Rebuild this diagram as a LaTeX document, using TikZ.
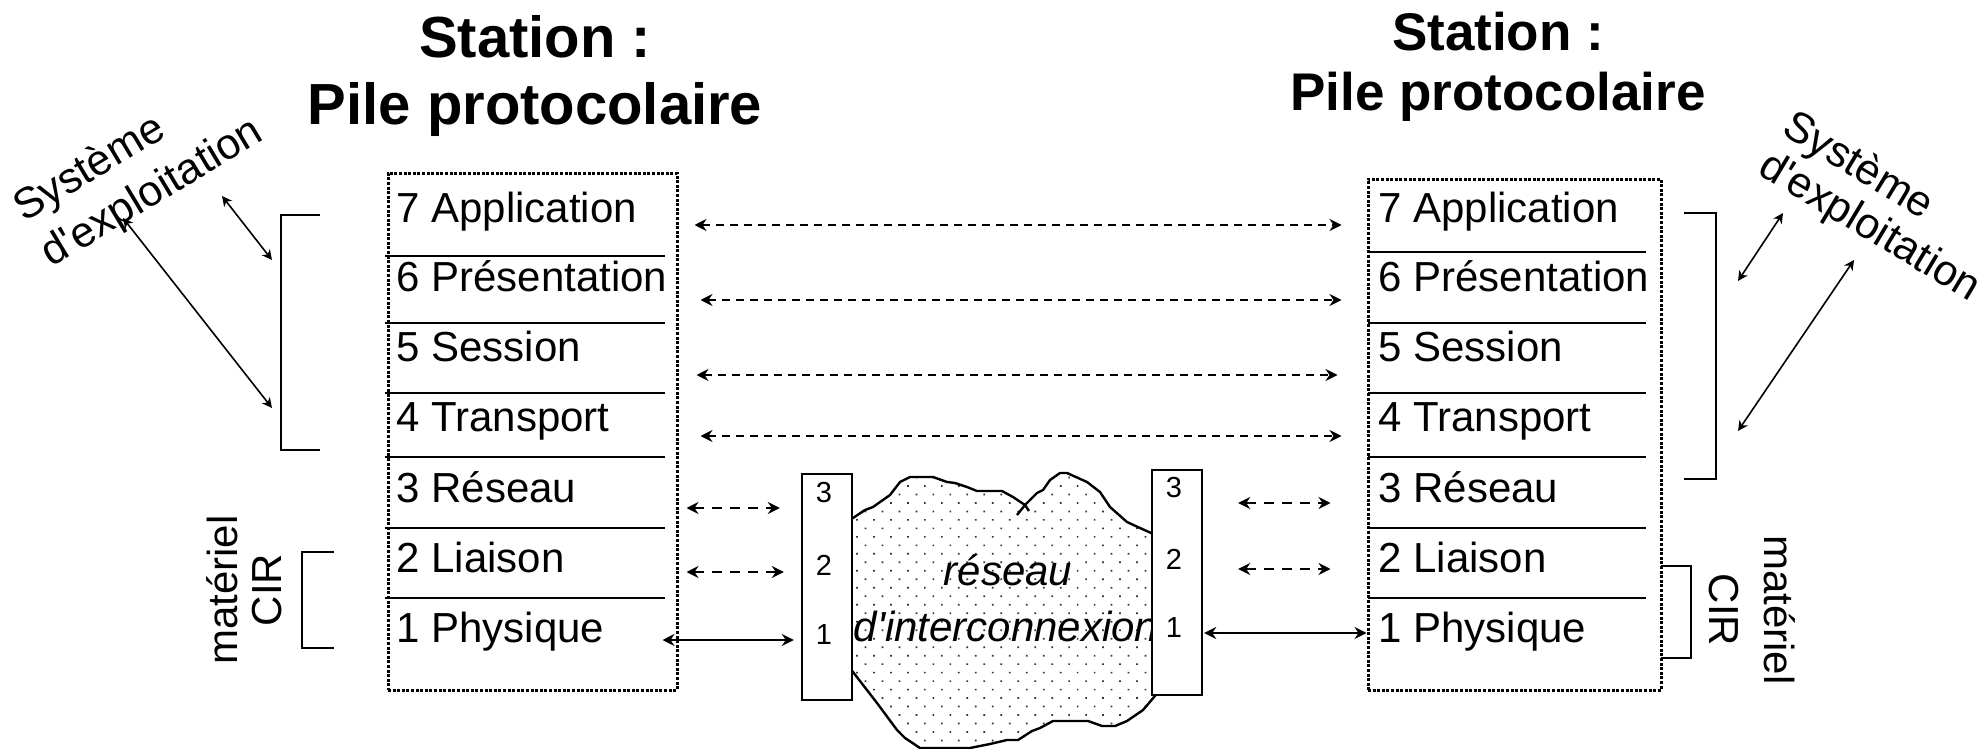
\documentclass[tikz,border=0pt]{standalone}
\usepackage{fontspec}
\setmainfont{Liberation Sans}[Ligatures=TeXOff]
\usepackage{tikz}
\usetikzlibrary{arrows.meta, positioning, patterns.meta}
\tikzset{layer/.style={anchor=base west, inner sep=0pt, font=\fontsize{21pt}{25pt}\selectfont}}

\begin{document}
\begin{tikzpicture}[x=0.5pt, y=-0.5pt, >={Stealth[length=6pt,width=6pt,inset=2pt]},
  pile/.style={draw, line width=1.5pt, dash pattern=on 1.5pt off 0.8pt, inner sep=0pt},
  sep/.style={line width=1.4pt},
  relay/.style={draw, fill=white, line width=1.2pt, inner sep=0pt},
  hopnum/.style={inner sep=0pt, font=\fontsize{14.5pt}{17pt}\selectfont},
  peer/.style={<->, line width=1.1pt, dash pattern=on 4pt off 3pt},
  hop/.style={<->, line width=1.4pt, dash pattern=on 5pt off 4pt},
  wire/.style={<->, line width=1.3pt},
  brace/.style={line width=1.1pt},
  os/.style={<->, line width=0.8pt, >={Stealth[length=5pt,width=5pt,inset=1.5pt]}},
  osname/.style={align=left, inner sep=0pt},
  hwname/.style={align=center, inner sep=0pt},
  net/.style={anchor=base, inner sep=0pt, font=\itshape\fontsize{21pt}{25pt}\selectfont},
  title/.style={align=center, inner sep=0pt}]
\useasboundingbox (0,0) rectangle (1986,749);

% titres
\node[title, font=\bfseries\fontsize{29pt}{33.5pt}\selectfont] (titleA) at (535,76) {Station :\\Pile protocolaire};
\node[title, font=\bfseries\fontsize{26.5pt}{30pt}\selectfont] (titleB) at (1498,67) {Station :\\Pile protocolaire};

% pile de gauche
\node[pile, minimum width=144.5pt, minimum height=258.5pt] (pileA) at (532.5,431.5) {};
\node[layer] (a7) at (396,222) {7 Application};
\node[layer] (a6) at (396,291) {6 Présentation};
\node[layer] (a5) at (396,361) {5 Session};
\node[layer] (a4) at (396,431) {4 Transport};
\node[layer] (a3) at (396,502) {3 Réseau};
\node[layer] (a2) at (396,572) {2 Liaison};
\node[layer] (a1) at (396,642) {1 Physique};
\draw[sep] (385,256) -- (665,256) (385,323) -- (665,323) (385,393) -- (665,393)
  (385,457) -- (665,457) (385,528) -- (665,528) (385,598) -- (665,598);

% pile de droite
\node[pile, minimum width=146.5pt, minimum height=255.5pt] (pileB) at (1514.5,434.5) {};
\node[layer] (b7) at (1378,222) {7 Application};
\node[layer] (b6) at (1378,291) {6 Présentation};
\node[layer] (b5) at (1378,361) {5 Session};
\node[layer] (b4) at (1378,431) {4 Transport};
\node[layer] (b3) at (1378,502) {3 Réseau};
\node[layer] (b2) at (1378,572) {2 Liaison};
\node[layer] (b1) at (1378,642) {1 Physique};
\draw[sep] (1368,252) -- (1646,252) (1368,323) -- (1646,323) (1368,393) -- (1646,393)
  (1368,457) -- (1646,457) (1368,528) -- (1646,528) (1368,598) -- (1646,598);

% nuage
\draw[line width=1.2pt, pattern={Dots[distance=6pt, angle=45, radius=0.6pt]}, pattern color=black!80]
  (845,522) -- (853,518) -- (865,510) -- (873,507) -- (890,495) -- (900,482) -- (910,477)
  -- (933,477) -- (947,482) -- (955,483) -- (967,487) -- (977,491) -- (1002,491) -- (1013,497)
  -- (1025,505) -- (1037,493) -- (1043,490) -- (1050,480) -- (1060,473) -- (1067,473)
  -- (1087,482) -- (1100,492) -- (1110,507) -- (1127,522) -- (1140,528) -- (1160,537)
  -- (1160,690) -- (1143,710) -- (1127,721) -- (1115,726) -- (1102,726) -- (1088,721)
  -- (1053,721) -- (1040,728) -- (1032,731) -- (1018,740) -- (1007,740) -- (990,744)
  -- (970,748) -- (920,748) -- (905,738) -- (897,730) -- (877,703) -- (853,672) -- (845,662) -- cycle;
\draw[line width=1.2pt] (1017,515) -- (1025,505) -- (1029,511);
\node[net] (net1) at (1008,585) {réseau};
\node[net] (net2) at (1006,641) {d'interconnexion};

% relais
\node[relay, minimum width=25pt, minimum height=113pt] (rA) at (827,587) {};
\node[relay, minimum width=25pt, minimum height=112.5pt] (rB) at (1177,582.5) {};
\node[hopnum] (rA3) at (824,493) {3};
\node[hopnum] (rA2) at (824,565) {2};
\node[hopnum] (rA1) at (824,635) {1};
\node[hopnum] (rB3) at (1174,488) {3};
\node[hopnum] (rB2) at (1174,559) {2};
\node[hopnum] (rB1) at (1174,628) {1};

% dialogues entre couches
\draw[peer, shorten <=8pt, shorten >=12.5pt] (pileA.east |- 0,225) -- (pileB.west |- 0,225);
\draw[peer, shorten <=11pt, shorten >=12.5pt] (pileA.east |- 0,300) -- (pileB.west |- 0,300);
\draw[peer, shorten <=9pt, shorten >=14.5pt] (pileA.east |- 0,375) -- (pileB.west |- 0,375);
\draw[peer, shorten <=11pt, shorten >=12.5pt] (pileA.east |- 0,436) -- (pileB.west |- 0,436);
\draw[hop, shorten <=4pt, shorten >=10.5pt] (pileA.east |- 0,508) -- (rA.west |- 0,508);
\draw[hop, shorten <=4pt, shorten >=8.5pt] (pileA.east |- 0,572) -- (rA.west |- 0,572);
\draw[wire, shorten <=-8pt, shorten >=3.5pt] (pileA.east |- 0,640) -- (rA.west |- 0,640);
\draw[hop, shorten <=17.5pt, shorten >=18pt] (rB.east |- 0,503) -- (pileB.west |- 0,503);
\draw[hop, shorten <=17.5pt, shorten >=18pt] (rB.east |- 0,569) -- (pileB.west |- 0,569);
\draw[wire, shorten <=0.5pt] (rB.east |- 0,633) -- (pileB.west |- 0,633);

% systeme d'exploitation
\draw[brace] (320,215) -| (281,450) -- (320,450);
\draw[brace] (1684,213) -| (1716,479) -- (1684,479);
\node[osname, rotate=31, font=\fontsize{21.5pt}{26.5pt}\selectfont] (osA) at (139,171) {Système\\d'exploitation};
\node[osname, rotate=-31, font=\fontsize{21.5pt}{23pt}\selectfont] (osB) at (1881,208) {Système\\d'exploitation};
\coordinate (osA1) at (222,196);
\coordinate (osA2) at (272,260);
\coordinate (osA3) at (123,218);
\coordinate (osA4) at (272,408);
\coordinate (osB1) at (1783,213);
\coordinate (osB2) at (1738,281);
\coordinate (osB3) at (1854,260);
\coordinate (osB4) at (1738,431);
\draw[os] (osA1) -- (osA2);
\draw[os] (osA3) -- (osA4);
\draw[os] (osB1) -- (osB2);
\draw[os] (osB3) -- (osB4);

% materiel CIR
\draw[brace] (334,552) -| (302,648) -- (334,648);
\draw[brace] (1661,566) -| (1691,658) -- (1661,658);
\node[hwname, rotate=90, font=\fontsize{21pt}{22pt}\selectfont] (hwA) at (244,590) {matériel\\CIR};
\node[hwname, rotate=-90, font=\fontsize{21pt}{27.5pt}\selectfont] (hwB) at (1752,610) {matériel\\CIR};
\end{tikzpicture}
\end{document}
